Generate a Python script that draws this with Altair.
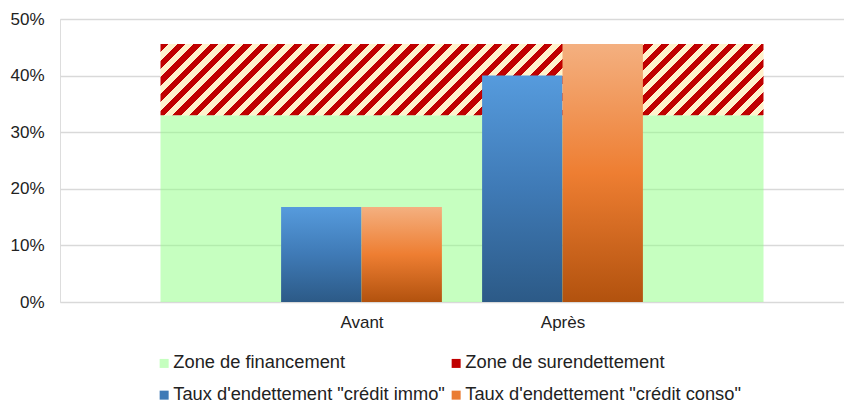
import altair as alt
import pandas as pd

# ---------------- data ----------------
cat_labels = ["", "Avant", "Après", ""]
cat_pos = [1, 2, 3, 4]
zone_financement = [0.33, 0.33, 0.33, 0.33]
zone_surendettement = [0.126, 0.126, 0.126, 0.126]

bar_labels = ["Avant", "Après"]
bar_pos = [2, 3]
credit_immo = [0.168, 0.40]
credit_conso = [0.168, 0.456]

y_ticks = [0, 0.1, 0.2, 0.3, 0.4, 0.5]
series_names = [
    "Zone de financement",
    "Zone de surendettement",
    "Taux d'endettement \"crédit immo\"",
    "Taux d'endettement \"crédit conso\"",
]
series_colors = ["#C5FFBF", "#C00000", "#3F7AB6", "#EA7C33"]

# ---------------- layout / style ----------------
W_PLOT, H_PLOT = 784, 283
PX_PER_CAT = 201
X_DOMAIN = [0.5, 0.5 + W_PLOT / PX_PER_CAT]
Y_DOMAIN = [0, 0.5]
FONT = "Liberation Sans"
TXT = "#222222"
RED, YEL = "#C00000", "#FFF2CC"

zones = pd.DataFrame({"pos": cat_pos, "fin": zone_financement, "sur": zone_surendettement})
bars = pd.DataFrame({"pos": bar_pos, "label": bar_labels, "immo": credit_immo, "conso": credit_conso})

# legend laid out column-first by Vega: reorder so it reads row-wise
leg_order = [0, 2, 1, 3]
leg_domain = [series_names[i] for i in leg_order]
leg_range = [series_colors[i] for i in leg_order]
legend_df = pd.DataFrame({"serie": leg_domain})

x_scale = alt.Scale(domain=X_DOMAIN, nice=False, zero=False)
y_scale = alt.Scale(domain=Y_DOMAIN, nice=False)

# hatch gradient (diagonal stripes) sized to the hatch area's bounding box
px_per_y = H_PLOT / (Y_DOMAIN[1] - Y_DOMAIN[0])
Wb = (cat_pos[-1] - cat_pos[0]) * PX_PER_CAT
Hb = zone_surendettement[0] * px_per_y
s = (Wb + Hb) * Wb / (Wb * Wb + Hb * Hb)
period = 16.7 / (Wb + Hb)
red_frac = 0.5
stops = []
k = 0
while k * period < 1:
    a = k * period
    b = a + red_frac * period
    c = (k + 1) * period
    for off, col in [(a, RED), (min(b, 1), RED), (min(b, 1), YEL), (min(c, 1), YEL)]:
        stops.append({"offset": round(off, 5), "color": col})
    k += 1
hatch = {"gradient": "linear", "x1": 0, "y1": 0, "x2": s, "y2": s * Hb / Wb, "stops": stops}

blue_grad = {"gradient": "linear", "x1": 0, "y1": 0, "x2": 0, "y2": 1,
             "stops": [{"offset": 0, "color": "#569BDD"},
                       {"offset": 0.5, "color": "#3F7AB6"},
                       {"offset": 1, "color": "#2C5A87"}]}
orange_grad = {"gradient": "linear", "x1": 0, "y1": 0, "x2": 0, "y2": 1,
               "stops": [{"offset": 0, "color": "#F4B080"},
                         {"offset": 0.5, "color": "#EE7E32"},
                         {"offset": 1, "color": "#B2520E"}]}

label_expr = " : ".join(
    f"datum.value == {p} ? '{l}'" for p, l in zip(cat_pos, cat_labels) if l
) + " : ''"

x_enc = alt.X("pos:Q", scale=x_scale,
              axis=alt.Axis(values=bar_pos, labelExpr=label_expr, grid=False, domain=False,
                            ticks=False, labelPadding=12, labelFontSize=17, labelFont=FONT,
                            labelColor=TXT, title=None))

base_zone = alt.Chart(zones)

green = base_zone.mark_area(fill="#8DFF81", opacity=0.5, interpolate="linear").encode(
    x=x_enc,
    y=alt.Y("fin:Q", scale=y_scale,
            axis=alt.Axis(values=y_ticks, format=".0%", grid=True, gridColor="#D9D9D9",
                          gridWidth=1.5, domain=False, ticks=False, labelPadding=16,
                          labelFontSize=17, labelFont=FONT, labelColor=TXT, title=None)),
    y2=alt.datum(0),
)

hatched = base_zone.transform_calculate(top="datum.fin + datum.sur").mark_area(
    fill=hatch, opacity=1, interpolate="linear"
).encode(
    x="pos:Q",
    y="top:Q",
    y2="fin:Q",
)

base_bar = alt.Chart(bars).transform_calculate(
    left="datum.pos - 0.4", right="datum.pos + 0.4"
)
blue = base_bar.mark_rect(fill=blue_grad).encode(
    x="left:Q", x2="pos:Q", y="immo:Q", y2=alt.datum(0)
)
orange = base_bar.mark_rect(fill=orange_grad).encode(
    x="pos:Q", x2="right:Q", y="conso:Q", y2=alt.datum(0)
)

legend_layer = alt.Chart(legend_df).mark_square(opacity=0).encode(
    color=alt.Color(
        "serie:N",
        scale=alt.Scale(domain=leg_domain, range=leg_range),
        sort=leg_domain,
        legend=alt.Legend(
            orient="none", legendX=95, legendY=335, columns=2, title=None,
            symbolType="square", symbolSize=81, symbolOpacity=1, symbolStrokeWidth=0,
            labelFontSize=18.3, labelFont=FONT, labelColor=TXT, labelOffset=0,
            columnPadding=2, rowPadding=13, padding=0, labelLimit=400,
        ),
    )
)

chart = alt.layer(green, hatched, blue, orange, legend_layer).properties(
    width=W_PLOT, height=H_PLOT,
    autosize=alt.AutoSizeParams(type="none"),
    padding={"left": 52, "top": 11, "right": 0, "bottom": 103},
).configure_view(stroke=None).configure(background="white")

chart.save("out.html", embed_options={"renderer": "svg", "actions": False})
